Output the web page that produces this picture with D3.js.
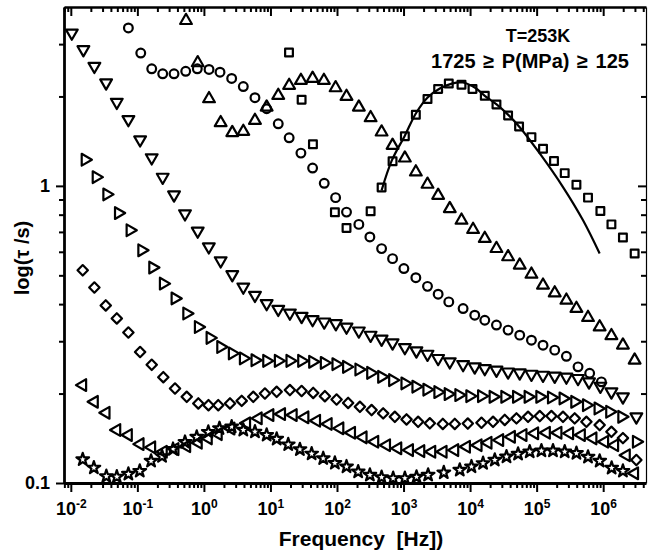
<!DOCTYPE html>
<html>
<head>
<meta charset="utf-8">
<script src="https://cdn.jsdelivr.net/npm/d3@7"></script>
<style>
  body { margin: 0; background: #fff; }
  text { font-family: "Liberation Sans", Arial, sans-serif; font-weight: bold; fill: #000; }
</style>
</head>
<body>
<svg id="chart" width="649" height="552"></svg>
<script>
// frequency in Hz, tau in s
var sqF = [19, 29.4, 43.5, 93, 139, 320, 468, 684, 1047, 1531, 2291, 3311, 4786, 7430, 10870, 16630, 24900, 37240, 54450, 83560, 124700, 182400, 264200, 396300, 591600, 907800, 1.33e6, 1.98e6, 2.97e6];
var sqT = [2.81, 1.95, 1.38, 0.815, 0.722, 0.821, 0.988, 1.21, 1.47, 1.735, 1.96, 2.12, 2.21, 2.19, 2.12, 2.01, 1.88, 1.726, 1.585, 1.459, 1.334, 1.212, 1.104, 1.009, 0.913, 0.823, 0.742, 0.67, 0.592];

var fitF = [468, 667, 1050, 1530, 2300, 3510, 5310, 7760, 11750, 16630, 25000, 36800, 55700, 111400, 249000, 498000, 885000];
var fitT = [0.966, 1.218, 1.479, 1.753, 1.984, 2.127, 2.21, 2.228, 2.143, 2.01, 1.88, 1.74, 1.576, 1.286, 0.991, 0.766, 0.592];

var ciF = [0.0733, 0.1125, 0.1644, 0.2404, 0.3556, 0.533, 0.796, 1.194, 1.746, 2.613, 3.91, 5.85, 8.77, 13.1, 19.1, 28.7, 43.0, 64.3, 95.3, 139, 213, 312, 468, 684, 1012, 1531, 2291, 3311, 4786, 7852, 11750, 16630, 24900, 37240, 55700, 83560, 124700, 187000, 280000, 418800, 626600, 939700];
var ciT = [3.40, 2.80, 2.477, 2.383, 2.383, 2.43, 2.477, 2.465, 2.413, 2.30, 2.16, 1.98, 1.818, 1.618, 1.452, 1.289, 1.148, 1.02, 0.913, 0.816, 0.742, 0.673, 0.615, 0.569, 0.527, 0.491, 0.459, 0.432, 0.407, 0.3866, 0.367, 0.353, 0.34, 0.327, 0.3145, 0.3025, 0.291, 0.28, 0.267, 0.246, 0.234, 0.219];

var tuF = [0.538, 0.807, 1.194, 1.787, 2.669, 3.91, 5.85, 8.77, 13.1, 19.1, 28.7, 43, 63.6, 95.3, 139, 213, 320, 468, 684, 1047, 1531, 2291, 3311, 4955, 7430, 11090, 16630, 24900, 37240, 55700, 83560, 124700, 187000, 280000, 396300, 591600, 885000, 1.33e6, 1.98e6, 2.97e6];
var tuT = [3.60, 2.595, 1.964, 1.631, 1.51, 1.524, 1.66, 1.84, 2.015, 2.177, 2.263, 2.30, 2.263, 2.138, 1.999, 1.84, 1.695, 1.517, 1.368, 1.24, 1.113, 1.012, 0.929, 0.838, 0.766, 0.713, 0.665, 0.615, 0.577, 0.541, 0.504, 0.463, 0.436, 0.412, 0.3866, 0.3605, 0.335, 0.313, 0.291, 0.259];

var tdF = [0.01035, 0.01545, 0.0226, 0.0339, 0.0491, 0.0733, 0.11, 0.1644, 0.2404, 0.3556, 0.52, 0.807, 1.185, 1.787, 2.669, 3.91, 5.85, 8.77, 13.1, 19.6, 29.4, 43, 64.3, 96.2, 139, 213, 320, 468, 684, 1047, 1560, 2291, 3311, 4955, 7852, 11750, 16630, 24900, 37240, 55700, 83560, 124700, 187000, 280000, 418800, 612400, 907800, 1.33e6, 1.98e6, 3.15e6];
var tdT = [3.27, 2.875, 2.527, 2.223, 1.913, 1.673, 1.43, 1.244, 1.07, 0.933, 0.806, 0.705, 0.624, 0.56, 0.503, 0.457, 0.4284, 0.402, 0.3844, 0.3736, 0.364, 0.355, 0.3485, 0.344, 0.335, 0.325, 0.3145, 0.305, 0.2963, 0.2858, 0.2786, 0.2714, 0.2626, 0.256, 0.2506, 0.246, 0.2429, 0.2399, 0.2366, 0.2348, 0.2325, 0.2307, 0.229, 0.2275, 0.2249, 0.219, 0.2118, 0.2027, 0.195, 0.167];

var trF = [0.0164, 0.024, 0.0347, 0.0519, 0.0776, 0.1164, 0.170, 0.2455, 0.368, 0.552, 0.824, 1.236, 1.787, 2.669, 3.91, 5.85, 8.77, 13.1, 19.6, 29.4, 43, 64.3, 96.2, 139, 213, 320, 468, 684, 1047, 1531, 2239, 3273, 4677, 6761, 9886, 14830, 22130, 33190, 49770, 74300, 111400, 166700, 249000, 373300, 559700, 835500, 1.25e6, 1.9e6, 3.15e6];
var trT = [1.225, 1.07, 0.936, 0.81, 0.709, 0.607, 0.531, 0.469, 0.418, 0.372, 0.335, 0.308, 0.287, 0.273, 0.2626, 0.259, 0.2577, 0.2577, 0.2577, 0.2577, 0.2558, 0.2537, 0.2512, 0.246, 0.241, 0.2348, 0.2277, 0.222, 0.2164, 0.211, 0.2062, 0.2023, 0.1992, 0.1977, 0.196, 0.196, 0.195, 0.195, 0.195, 0.195, 0.195, 0.194, 0.1926, 0.1876, 0.1828, 0.1782, 0.1737, 0.167, 0.1377];

var diF = [0.0151, 0.0226, 0.0335, 0.0491, 0.0733, 0.11, 0.1644, 0.2455, 0.368, 0.552, 0.824, 1.172, 1.644, 2.466, 3.698, 5.52, 8.26, 12.4, 19.6, 29.4, 43.9, 65.8, 98.6, 147, 221, 331, 494, 740, 1109, 1656, 2483, 3890, 5890, 9240, 14830, 22130, 33190, 49770, 74300, 111400, 166700, 249000, 373300, 559700, 885000, 1.33e6, 1.98e6, 3.15e6];
var diT = [0.52, 0.455, 0.396, 0.358, 0.321, 0.276, 0.25, 0.227, 0.208, 0.195, 0.1853, 0.1828, 0.1828, 0.1853, 0.189, 0.195, 0.2001, 0.2027, 0.2055, 0.204, 0.201, 0.196, 0.191, 0.186, 0.1805, 0.176, 0.1715, 0.167, 0.1637, 0.1607, 0.1588, 0.158, 0.158, 0.1585, 0.1595, 0.1607, 0.163, 0.165, 0.167, 0.168, 0.168, 0.167, 0.165, 0.1607, 0.1567, 0.1487, 0.1416, 0.1195];

var tlF = [0.0151, 0.0226, 0.0339, 0.0491, 0.0733, 0.11, 0.1644, 0.2455, 0.368, 0.552, 0.824, 1.165, 1.644, 2.553, 4.39, 6.56, 9.83, 14.7, 22, 33, 49.4, 73.8, 110.6, 165.6, 247, 370, 556, 821, 1230, 1820, 2660, 3935, 5890, 8830, 13200, 18620, 27900, 41860, 62500, 93550, 140300, 209400, 314000, 471000, 703000, 1.054e6, 1.49e6, 2.23e6, 2.97e6];
var tlT = [0.2135, 0.1876, 0.1723, 0.1508, 0.145, 0.1352, 0.1318, 0.1274, 0.13, 0.133, 0.1366, 0.1413, 0.146, 0.1525, 0.1588, 0.165, 0.1693, 0.1706, 0.1693, 0.1663, 0.162, 0.158, 0.1527, 0.1476, 0.1424, 0.1377, 0.134, 0.1308, 0.129, 0.128, 0.1274, 0.1274, 0.129, 0.1324, 0.134, 0.1366, 0.1394, 0.143, 0.145, 0.1469, 0.1476, 0.1476, 0.1469, 0.145, 0.1413, 0.1377, 0.134, 0.124, 0.1078];

var stF = [0.0151, 0.0222, 0.0342, 0.0491, 0.0733, 0.1087, 0.1607, 0.235, 0.3436, 0.52, 0.78, 1.165, 1.714, 2.613, 3.91, 5.85, 8.77, 12.4, 18.5, 27.7, 41.6, 62.1, 92.9, 139, 208, 312, 468, 698, 1047, 1567, 2340, 4027, 6998, 10490, 15670, 23500, 35240, 52600, 78700, 118000, 176200, 264200, 396300, 591600, 885000, 1.34e6, 1.98e6];
var stT = [0.12, 0.1125, 0.1053, 0.1049, 0.1072, 0.1097, 0.1186, 0.123, 0.13, 0.1373, 0.1428, 0.1484, 0.1527, 0.1546, 0.1508, 0.1487, 0.145, 0.1406, 0.1347, 0.1297, 0.1254, 0.121, 0.1167, 0.1135, 0.1091, 0.1064, 0.1045, 0.1037, 0.1037, 0.1048, 0.1064, 0.1084, 0.1106, 0.1135, 0.1165, 0.1195, 0.1226, 0.1252, 0.1274, 0.1284, 0.1284, 0.1274, 0.1259, 0.1223, 0.1186, 0.1123, 0.1097];

var xMajor = [1e-2, 1e-1, 1, 10, 100, 1e3, 1e4, 1e5, 1e6];
var xLabels = ["-2", "-1", "0", "1", "2", "3", "4", "5", "6"];
var yMajor = [0.1, 1];
var yLabels = ["0.1", "1"];

var svg = d3.select("#chart");
var pLeft = 64, pRight = 646, pTop = 7, pBottom = 483;

var x = d3.scaleLog().domain([0.0079, 4.4e6]).range([pLeft, pRight]);
var y = d3.scaleLog().domain([0.1, 4]).range([pBottom, pTop]);

// minor ticks 2..9 in every decade inside the domain
function minors(scale) {
  var d = scale.domain(), out = [];
  for (var p = -3; p <= 7; p++) {
    for (var m = 2; m <= 9; m++) {
      var v = m * Math.pow(10, p);
      if (v > d[0] && v < d[1]) out.push(v);
    }
  }
  return out;
}

function styleAxis(g, w) {
  g.select(".domain").attr("stroke", "#000").attr("stroke-width", w);
  g.selectAll(".tick line").attr("stroke", "#000").attr("stroke-width", 2);
}

// bottom
var gb = svg.append("g").attr("transform", "translate(0," + pBottom + ")")
  .call(d3.axisBottom(x).tickValues(minors(x)).tickSize(5).tickSizeOuter(0).tickFormat(""));
styleAxis(gb, 0);
var gbm = svg.append("g").attr("transform", "translate(0," + pBottom + ")")
  .call(d3.axisBottom(x).tickValues(xMajor).tickSize(9).tickSizeOuter(0).tickPadding(10).tickFormat(""));
styleAxis(gbm, 2.8);
gbm.selectAll(".tick text")
  .attr("font-size", 18)
  .attr("dy", "0.71em")
  .each(function(d, i) {
    var t = d3.select(this);
    t.text("10");
    t.append("tspan").attr("dy", -7).attr("font-size", 12).text(xLabels[i]);
  });

// top
var gt = svg.append("g").attr("transform", "translate(0," + pTop + ")")
  .call(d3.axisTop(x).tickValues(minors(x)).tickSize(-5).tickSizeOuter(0).tickFormat(""));
styleAxis(gt, 0);
var gtm = svg.append("g").attr("transform", "translate(0," + pTop + ")")
  .call(d3.axisTop(x).tickValues(xMajor).tickSize(-9).tickSizeOuter(0).tickFormat(""));
styleAxis(gtm, 2.4);

// left
var gl = svg.append("g").attr("transform", "translate(" + pLeft + ",0)")
  .call(d3.axisLeft(y).tickValues(minors(y)).tickSize(5).tickSizeOuter(0).tickFormat(""));
styleAxis(gl, 0);
var glm = svg.append("g").attr("transform", "translate(" + pLeft + ",0)")
  .call(d3.axisLeft(y).tickValues(yMajor).tickSize(8).tickSizeOuter(0).tickPadding(6)
    .tickFormat(function(d, i) { return yLabels[i]; }));
styleAxis(glm, 2.8);
glm.selectAll(".tick text").attr("font-size", 18);

// right
var gr = svg.append("g").attr("transform", "translate(" + pRight + ",0)")
  .call(d3.axisRight(y).tickValues(minors(y)).tickSize(-5).tickSizeOuter(0).tickFormat(""));
styleAxis(gr, 0);
var grm = svg.append("g").attr("transform", "translate(" + pRight + ",0)")
  .call(d3.axisRight(y).tickValues(yMajor).tickSize(-8).tickSizeOuter(0).tickFormat(""));
styleAxis(grm, 1.2);

// fit curve
var line = d3.line()
  .x(function(d) { return x(d[0]); })
  .y(function(d) { return y(d[1]); })
  .curve(d3.curveCatmullRom);
svg.append("path")
  .datum(d3.zip(fitF, fitT))
  .attr("d", line)
  .attr("fill", "none")
  .attr("stroke", "#000")
  .attr("stroke-width", 2.2);

var series = [
  { f: sqF, t: sqT, type: d3.symbolSquare, size: 60, rot: 0 },
  { f: ciF, t: ciT, type: d3.symbolCircle, size: 60, rot: 0 },
  { f: tuF, t: tuT, type: d3.symbolTriangle, size: 60, rot: 0 },
  { f: tdF, t: tdT, type: d3.symbolTriangle, size: 60, rot: 180 },
  { f: trF, t: trT, type: d3.symbolTriangle, size: 60, rot: 90 },
  { f: diF, t: diT, type: d3.symbolSquare, size: 54, rot: 45 },
  { f: tlF, t: tlT, type: d3.symbolTriangle, size: 60, rot: -90 },
  { f: stF, t: stT, type: d3.symbolStar, size: 50, rot: 0 }
];

series.forEach(function(s) {
  var sym = d3.symbol().type(s.type).size(s.size);
  svg.append("g").selectAll("path")
    .data(d3.zip(s.f, s.t))
    .enter().append("path")
    .attr("d", sym)
    .attr("transform", function(d) {
      return "translate(" + x(d[0]) + "," + y(d[1]) + ") rotate(" + s.rot + ")";
    })
    .attr("fill", "none")
    .attr("stroke", "#000")
    .attr("stroke-width", 2.2)
    .attr("stroke-linejoin", "round");
});

// titles
svg.append("text")
  .attr("x", 361).attr("y", 546)
  .attr("text-anchor", "middle")
  .attr("font-size", 21)
  .style("white-space", "pre")
  .text("Frequency  [Hz])");

svg.append("text")
  .attr("transform", "translate(29,258) rotate(-90)")
  .attr("text-anchor", "middle")
  .attr("font-size", 20)
  .text("log(τ /s)");

svg.append("text")
  .attr("x", 538).attr("y", 42)
  .attr("text-anchor", "middle")
  .attr("font-size", 18)
  .text("T=253K");

svg.append("text")
  .attr("x", 530).attr("y", 68)
  .attr("text-anchor", "middle")
  .attr("font-size", 20)
  .attr("word-spacing", 2)
  .text("1725 ≥ P(MPa) ≥ 125");
</script>
</body>
</html>
